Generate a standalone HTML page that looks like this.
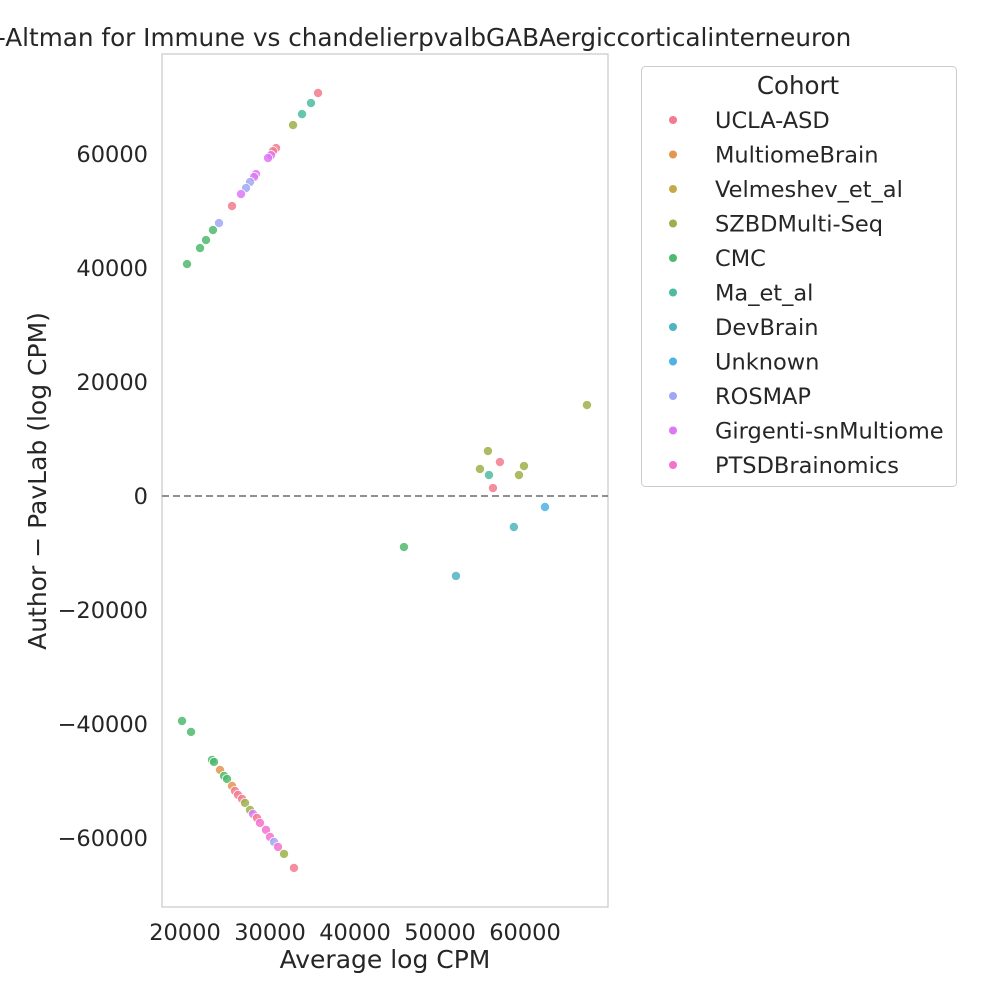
<!DOCTYPE html>
<html><head><meta charset="utf-8"><style>
body{margin:0;background:#fff;}
svg text{font-family:"DejaVu Sans","Liberation Sans",sans-serif;fill:#262626;}
</style></head><body>
<svg id="chart" width="1000" height="1000" xmlns="http://www.w3.org/2000/svg">
<text x="389" y="46" font-size="24.7" text-anchor="middle">Bland-Altman for Immune vs chandelierpvalbGABAergiccorticalinterneuron</text>
<rect x="162" y="54" width="446" height="853" fill="#fff" stroke="#cccccc" stroke-width="1.3"/>
<g id="ticks"></g>
<line id="zero-line" x1="162" x2="608" stroke="#808080" stroke-width="1.8" stroke-dasharray="7,4"/>
<g id="points"></g>
<text x="385" y="968" font-size="25" text-anchor="middle">Average log CPM</text>
<text transform="translate(46,481) rotate(-90)" font-size="25" text-anchor="middle">Author − PavLab (log CPM)</text>
<g id="legend">
<rect x="641.5" y="66.5" width="315" height="420" rx="4" fill="#fff" stroke="#cccccc"/>
<text x="798" y="94" font-size="24.5" text-anchor="middle">Cohort</text>
</g>
</svg>
<script>
const cohorts=["UCLA-ASD","MultiomeBrain","Velmeshev_et_al","SZBDMulti-Seq","CMC","Ma_et_al","DevBrain","Unknown","ROSMAP","Girgenti-snMultiome","PTSDBrainomics"];
const colors=["#f37b8f","#e5954f","#c6aa4a","#9cb04a","#4fba6f","#4dbba0","#4db4c0","#4eb2e6","#a0a7f5","#de77f5","#f472cf"];
const xTicks=[20000,30000,40000,50000,60000];
const yTicks=[-60000,-40000,-20000,0,20000,40000,60000];
const xMean=[35650,34820,33770,32710,30710,30350,30120,29770,28350,28120,27650,27180,26590,25530,24000,23290,22470,21770,20240,
19650,20710,23180,23410,24120,24590,24940,25530,25880,26240,26710,27060,27650,28000,28470,28820,29530,30000,30470,30940,31650,32820,
67290,55640,57050,54700,59880,59290,55760,56230,58690,62350,45760,51880];
const yDiff=[70700,68940,67000,65080,61040,60500,59800,59300,56480,55950,55080,54020,52970,50870,47880,46660,44900,43500,40690,
-39470,-41390,-46300,-46650,-48060,-49110,-49640,-50870,-51740,-52440,-53150,-53850,-55080,-55780,-56480,-57360,-58580,-59810,-60690,-61560,-62790,-65250,
15960,7890,5960,4740,5260,3680,3680,1400,-5440,-1930,-8950,-14030];
const cohortIdx=[0,5,5,3,0,0,9,9,9,9,8,8,9,0,8,4,4,4,4,
4,4,4,4,1,4,4,1,0,0,0,3,3,9,0,10,10,10,8,10,3,0,
3,3,0,3,3,3,5,0,6,7,4,6];
function sx(v){return 185+(v-20000)/10000*85;}
function sy(v){return 496-v/20000*114;}
const NS="http://www.w3.org/2000/svg";
const tg=document.getElementById('ticks');
xTicks.forEach(t=>{const e=document.createElementNS(NS,'text');


e.setAttribute('x',sx(t));e.setAttribute('y',940);e.setAttribute('font-size','22.5');e.setAttribute('text-anchor','middle');e.textContent=t;tg.appendChild(e);});
yTicks.forEach(t=>{const e=document.createElementNS(NS,'text');


e.setAttribute('x',148);e.setAttribute('y',sy(t)+8);e.setAttribute('font-size','22.5');e.setAttribute('text-anchor','end');e.textContent=(t<0?'−'+(-t):t);tg.appendChild(e);});
const zl=document.getElementById('zero-line');zl.setAttribute('y1',sy(0));zl.setAttribute('y2',sy(0));
const pg=document.getElementById('points');
xMean.forEach((x,i)=>{const c=document.createElementNS(NS,'circle');


c.setAttribute('cx',sx(x));c.setAttribute('cy',sy(yDiff[i]));c.setAttribute('r',4.6);c.setAttribute('fill',colors[cohortIdx[i]]);c.setAttribute('fill-opacity','0.85');c.setAttribute('stroke','#fff');c.setAttribute('stroke-width','0.8');pg.appendChild(c);});
const lg=document.getElementById('legend');
cohorts.forEach((n,i)=>{const y=120+i*34.5;
const c=document.createElementNS(NS,'circle');


c.setAttribute('cx',673);c.setAttribute('cy',y);c.setAttribute('r',4);c.setAttribute('fill',colors[i]);lg.appendChild(c);
const t=document.createElementNS(NS,'text');


t.setAttribute('x',715);t.setAttribute('y',y+8);t.setAttribute('font-size','22.5');t.textContent=n;lg.appendChild(t);});
</script>
</body></html>
